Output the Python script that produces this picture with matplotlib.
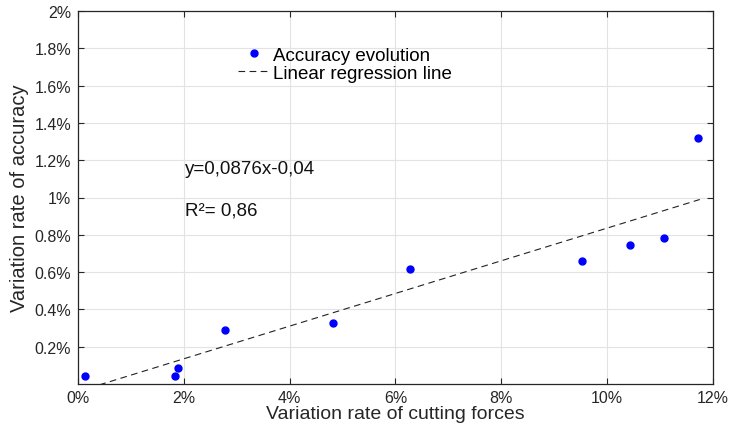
import matplotlib
matplotlib.use("Agg")
import matplotlib.pyplot as plt
import numpy as np

plt.rcParams['font.family'] = ['Liberation Sans', 'DejaVu Sans']

# data (percent)
force_rate = [0.13, 1.83, 1.89, 2.78, 4.82, 6.28, 9.53, 10.43, 11.08, 11.72]
accuracy_rate = [0.043, 0.043, 0.086, 0.29, 0.327, 0.617, 0.66, 0.745, 0.783, 1.319]

slope = 0.0876
intercept = -0.04
line_x = [0.0, 11.75]

xticks = [0, 2, 4, 6, 8, 10, 12]
xticklabels = ['0%', '2%', '4%', '6%', '8%', '10%', '12%']
yticks = [0.2, 0.4, 0.6, 0.8, 1.0, 1.2, 1.4, 1.6, 1.8, 2.0]
yticklabels = ['0.2%', '0.4%', '0.6%', '0.8%', '1%', '1.2%', '1.4%', '1.6%', '1.8%', '2%']

fig = plt.figure(figsize=(7.29, 4.27), dpi=100)
ax = fig.add_axes([78/729, 1 - 385/427, (713-78)/729, (385-12)/427])

ax.plot(force_rate, accuracy_rate, 'o', color='#0000ff', markersize=5,
        label='Accuracy evolution')
lx = np.array(line_x)
ax.plot(lx, slope*lx + intercept, '--', color='#222222', linewidth=0.8,
        dashes=(6, 4), label='Linear regression line')

ax.set_xlim(0, 12)
ax.set_ylim(0, 2)
ax.set_xticks(xticks)
ax.set_xticklabels(xticklabels)
ax.set_yticks(yticks)
ax.set_yticklabels(yticklabels)
ax.grid(True, color='#e3e3e3', linewidth=0.8)
ax.set_axisbelow(True)
ax.tick_params(direction='in', length=4, width=0.8, colors='#262626',
               labelsize=11.5, top=True, right=True, pad=5)
ax.tick_params(axis='x', pad=4)
for s in ax.spines.values():
    s.set_color('#262626')
    s.set_linewidth(0.9)

ax.set_xlabel('Variation rate of cutting forces', fontsize=14, color='#262626', labelpad=0)
ax.set_ylabel('Variation rate of accuracy', fontsize=14.5, color='#262626', labelpad=4)

ax.text(2.02, 1.158, 'y=0,0876x-0,04', fontsize=13.5, va='center', ha='left', color='#111111')
ax.text(2.02, 0.933, 'R²= 0,86', fontsize=13.5, va='center', ha='left', color='#111111')

ax.legend(loc='upper left', bbox_to_anchor=(0.252, 0.904), frameon=False, fontsize=13.5,
          handlelength=1.7, handletextpad=0.15, labelspacing=0.05, borderaxespad=0,
          borderpad=0)

fig.savefig('out.png', dpi=100)
